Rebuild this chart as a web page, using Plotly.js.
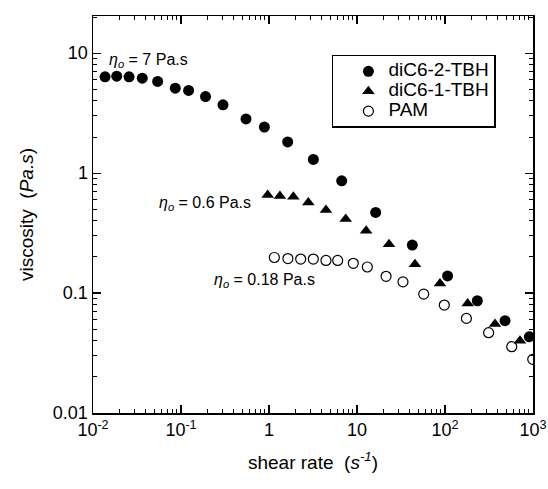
<!DOCTYPE html>
<html>
<head>
<meta charset="utf-8">
<script src="https://cdn.plot.ly/plotly-3.0.1.min.js"></script>
<style>html,body{margin:0;padding:0;background:#fff;}#chart{width:548px;height:489px;}</style>
</head>
<body>
<div id="chart"></div>
<script>
// Series: diC6-2-TBH (filled circles)
const rate_diC6_2 = [0.0137, 0.0186, 0.0257, 0.0363, 0.0543, 0.0861, 0.122, 0.19, 0.30, 0.548, 0.886, 1.63, 3.19, 6.70, 16.3, 42.5, 107, 233, 481, 908];
const visc_diC6_2 = [6.35, 6.43, 6.35, 6.19, 5.81, 5.11, 4.89, 4.35, 3.71, 2.83, 2.42, 1.82, 1.30, 0.863, 0.470, 0.251, 0.139, 0.0863, 0.0588, 0.0432];
// Series: diC6-1-TBH (filled triangles)
const rate_diC6_1 = [0.966, 1.33, 1.89, 2.80, 4.44, 7.44, 12.7, 23.1, 45.6, 87.7, 181, 370, 711];
const visc_diC6_1 = [0.656, 0.643, 0.635, 0.570, 0.492, 0.414, 0.331, 0.255, 0.174, 0.120, 0.082, 0.0552, 0.040];
// Series: PAM (open circles)
const rate_PAM = [1.15, 1.64, 2.29, 3.19, 4.44, 6.03, 9.08, 13.1, 21.4, 33.3, 57.3, 98.2, 175, 313, 573, 993];
const visc_PAM = [0.198, 0.194, 0.192, 0.192, 0.187, 0.187, 0.177, 0.165, 0.138, 0.124, 0.098, 0.0794, 0.0615, 0.0467, 0.0357, 0.028];
// Series names
const seriesNames = ['diC6-2-TBH', 'diC6-1-TBH', 'PAM'];
// Tick labels
const xTickVals = [0.01, 0.1, 1, 10, 100, 1000];
const xTickText = ['10<sup>-2</sup>', '10<sup>-1</sup>', '1', '10', '10<sup>2</sup>', '10<sup>3</sup>'];
const yTickVals = [0.01, 0.1, 1, 10];
const yTickText = ['0.01', '0.1', '1', '10'];
// Zero-shear viscosity labels
const etaLabels = ['<i>η</i><sub><i>o</i></sub> = 7 Pa.s', '<i>η</i><sub><i>o</i></sub> = 0.6 Pa.s', '<i>η</i><sub><i>o</i></sub> = 0.18 Pa.s'];

const FONT = 'Liberation Sans, Arial, sans-serif';
const legendName = n => '<span style="font-size:19px">' + n + '</span>';

const traces = [
  {x: rate_diC6_2, y: visc_diC6_2, name: legendName(seriesNames[0]), mode: 'markers', type: 'scatter',
   marker: {symbol: 'circle', size: 11, color: '#000'}},
  {x: rate_diC6_1, y: visc_diC6_1, name: legendName(seriesNames[1]), mode: 'markers', type: 'scatter',
   marker: {symbol: 'triangle-up', size: 11, color: '#000'}},
  {x: rate_PAM, y: visc_PAM, name: legendName(seriesNames[2]), mode: 'markers', type: 'scatter',
   marker: {symbol: 'circle-open', size: 10, color: '#000', line: {width: 1.2, color: '#000'}}}
];

const axisCommon = {
  type: 'log', showgrid: false, zeroline: false,
  showline: true, linecolor: '#000', linewidth: 1.5, mirror: 'allticks',
  ticks: 'inside', ticklen: 8, tickwidth: 1.2, tickcolor: '#000',
  minor: {ticks: 'inside', ticklen: 4, tickwidth: 1, tickcolor: '#000', showgrid: false, dtick: 'D1'},
  tickfont: {family: FONT, size: 18, color: '#000'}
};

const layout = {
  width: 548, height: 489,
  margin: {l: 93, r: 15, t: 16, b: 76},
  paper_bgcolor: '#fff', plot_bgcolor: '#fff',
  font: {family: FONT, color: '#000'},
  showlegend: true,
  legend: {
    x: 0.543, y: 0.902, xanchor: 'left', yanchor: 'top',
    bordercolor: '#000', borderwidth: 1.5, bgcolor: '#fff',
    font: {family: FONT, size: 13, color: '#000'},
    indentation: 15, tracegroupgap: 0
  },
  xaxis: Object.assign({}, axisCommon, {
    range: [-2, 3], tickvals: xTickVals, ticktext: xTickText,
    title: {text: 'shear rate  (<i>s</i><sup><i>-1</i></sup>)', font: {family: FONT, size: 19, color: '#000'}, standoff: 16}
  }),
  yaxis: Object.assign({}, axisCommon, {
    range: [-2, 1.31], tickvals: yTickVals, ticktext: yTickText,
    title: {text: 'viscosity  (<i>Pa.s</i>)', font: {family: FONT, size: 19, color: '#000'}, standoff: 14}
  }),
  annotations: [
    {x: Math.log10(0.0144), y: Math.log10(8.74), xref: 'x', yref: 'y', text: etaLabels[0], showarrow: false, xanchor: 'left', yanchor: 'middle', font: {family: FONT, size: 16, color: '#000'}},
    {x: -1.273, y: -0.25, xref: 'x', yref: 'y', text: etaLabels[1], showarrow: false, xanchor: 'left', yanchor: 'middle', font: {family: FONT, size: 16, color: '#000'}},
    {x: -0.648, y: -0.892, xref: 'x', yref: 'y', text: etaLabels[2], showarrow: false, xanchor: 'left', yanchor: 'middle', font: {family: FONT, size: 16, color: '#000'}}
  ]
};

Plotly.newPlot('chart', traces, layout, {displayModeBar: false, staticPlot: true});
</script>
</body>
</html>
